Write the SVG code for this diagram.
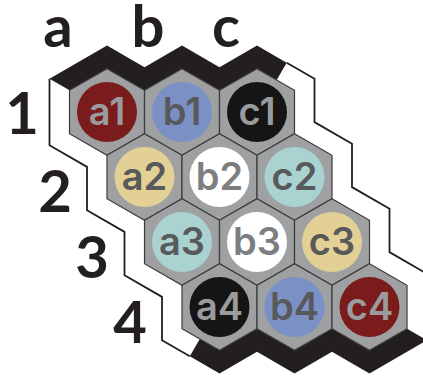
<svg xmlns="http://www.w3.org/2000/svg" width="423" height="378" viewBox="0 0 423 378">
<style>
.hex{fill:#9fa0a2;stroke:#3a3a3c;stroke-width:1.2}
.band{fill:#231f20}
.edge{fill:none;stroke:#231f20;stroke-width:1.8;stroke-linejoin:miter}
.lbl{font-family:"Lato","Noto Sans",sans-serif;font-weight:700;font-size:58px;fill:#231f20;text-anchor:middle}
.cell{font-family:"Inter","Noto Sans",sans-serif;font-weight:600;font-size:38px;text-anchor:middle}
.dk{fill:#9a9b9d}.lt{fill:#58595b}.wt{fill:#7d7e80}
</style>
<defs>
<path id="hx" d="M0,-43.3 L37.5,-21.65 L37.5,21.65 L0,43.3 L-37.5,21.65 L-37.5,-21.65 Z"/>
</defs>
<g id="frame">
<polygon class="band" points="49.5,78.8 107,45.6 144.5,67.25 182,45.6 219.5,67.25 257,45.6 286.7,62.75 276.7,80.07 257,68.7 219.5,90.35 182,68.7 144.5,90.35 107,68.7 69.5,90.35"/>
<polygon class="band" points="427,340.2 369.5,373.4 332,351.75 294.5,373.4 257,351.75 219.5,373.4 189.8,356.25 199.8,338.93 219.5,350.3 257,328.65 294.5,350.3 332,328.65 369.5,350.3 407,328.65"/>
<polyline class="edge" points="49.5,78.8 49.5,145.2 87,166.85 87,210.2 124.5,231.85 124.5,275.2 162,296.85 162,340.2 189.8,356.25"/>
<polyline class="edge" points="427,340.2 427,273.8 389.5,252.15 389.5,208.8 352,187.15 352,143.8 314.5,122.15 314.5,78.8 286.7,62.75"/>
</g>
<g id="labels">
<text class="lbl" x="58" y="47">a</text>
<text class="lbl" x="148" y="47">b</text>
<text class="lbl" x="226" y="47">c</text>
<text class="lbl" x="22" y="134">1</text>
<text class="lbl" x="55" y="212">2</text>
<text class="lbl" x="92" y="278">3</text>
<text class="lbl" x="130" y="343">4</text>
</g>
<g id="a1" transform="translate(107,112)"><use href="#hx" class="hex"/><circle r="30" fill="#7a1b1c"/><text class="cell dk" y="13">a1</text></g>
<g id="b1" transform="translate(182,112)"><use href="#hx" class="hex"/><circle r="30" fill="#7b91c5"/><text class="cell lt" y="13">b1</text></g>
<g id="c1" transform="translate(257,112)"><use href="#hx" class="hex"/><circle r="30" fill="#151515"/><text class="cell dk" y="13">c1</text></g>
<g id="a2" transform="translate(144.5,177)"><use href="#hx" class="hex"/><circle r="30" fill="#e3d095"/><text class="cell lt" y="13">a2</text></g>
<g id="b2" transform="translate(219.5,177)"><use href="#hx" class="hex"/><circle r="30" fill="#ffffff"/><text class="cell wt" y="13">b2</text></g>
<g id="c2" transform="translate(294.5,177)"><use href="#hx" class="hex"/><circle r="30" fill="#a9d2d1"/><text class="cell lt" y="13">c2</text></g>
<g id="a3" transform="translate(182,242)"><use href="#hx" class="hex"/><circle r="30" fill="#a9d2d1"/><text class="cell lt" y="13">a3</text></g>
<g id="b3" transform="translate(257,242)"><use href="#hx" class="hex"/><circle r="30" fill="#ffffff"/><text class="cell wt" y="13">b3</text></g>
<g id="c3" transform="translate(332,242)"><use href="#hx" class="hex"/><circle r="30" fill="#e3d095"/><text class="cell lt" y="13">c3</text></g>
<g id="a4" transform="translate(219.5,307)"><use href="#hx" class="hex"/><circle r="30" fill="#151515"/><text class="cell dk" y="13">a4</text></g>
<g id="b4" transform="translate(294.5,307)"><use href="#hx" class="hex"/><circle r="30" fill="#7b91c5"/><text class="cell lt" y="13">b4</text></g>
<g id="c4" transform="translate(369.5,307)"><use href="#hx" class="hex"/><circle r="30" fill="#7a1b1c"/><text class="cell dk" y="13">c4</text></g>
</svg>
